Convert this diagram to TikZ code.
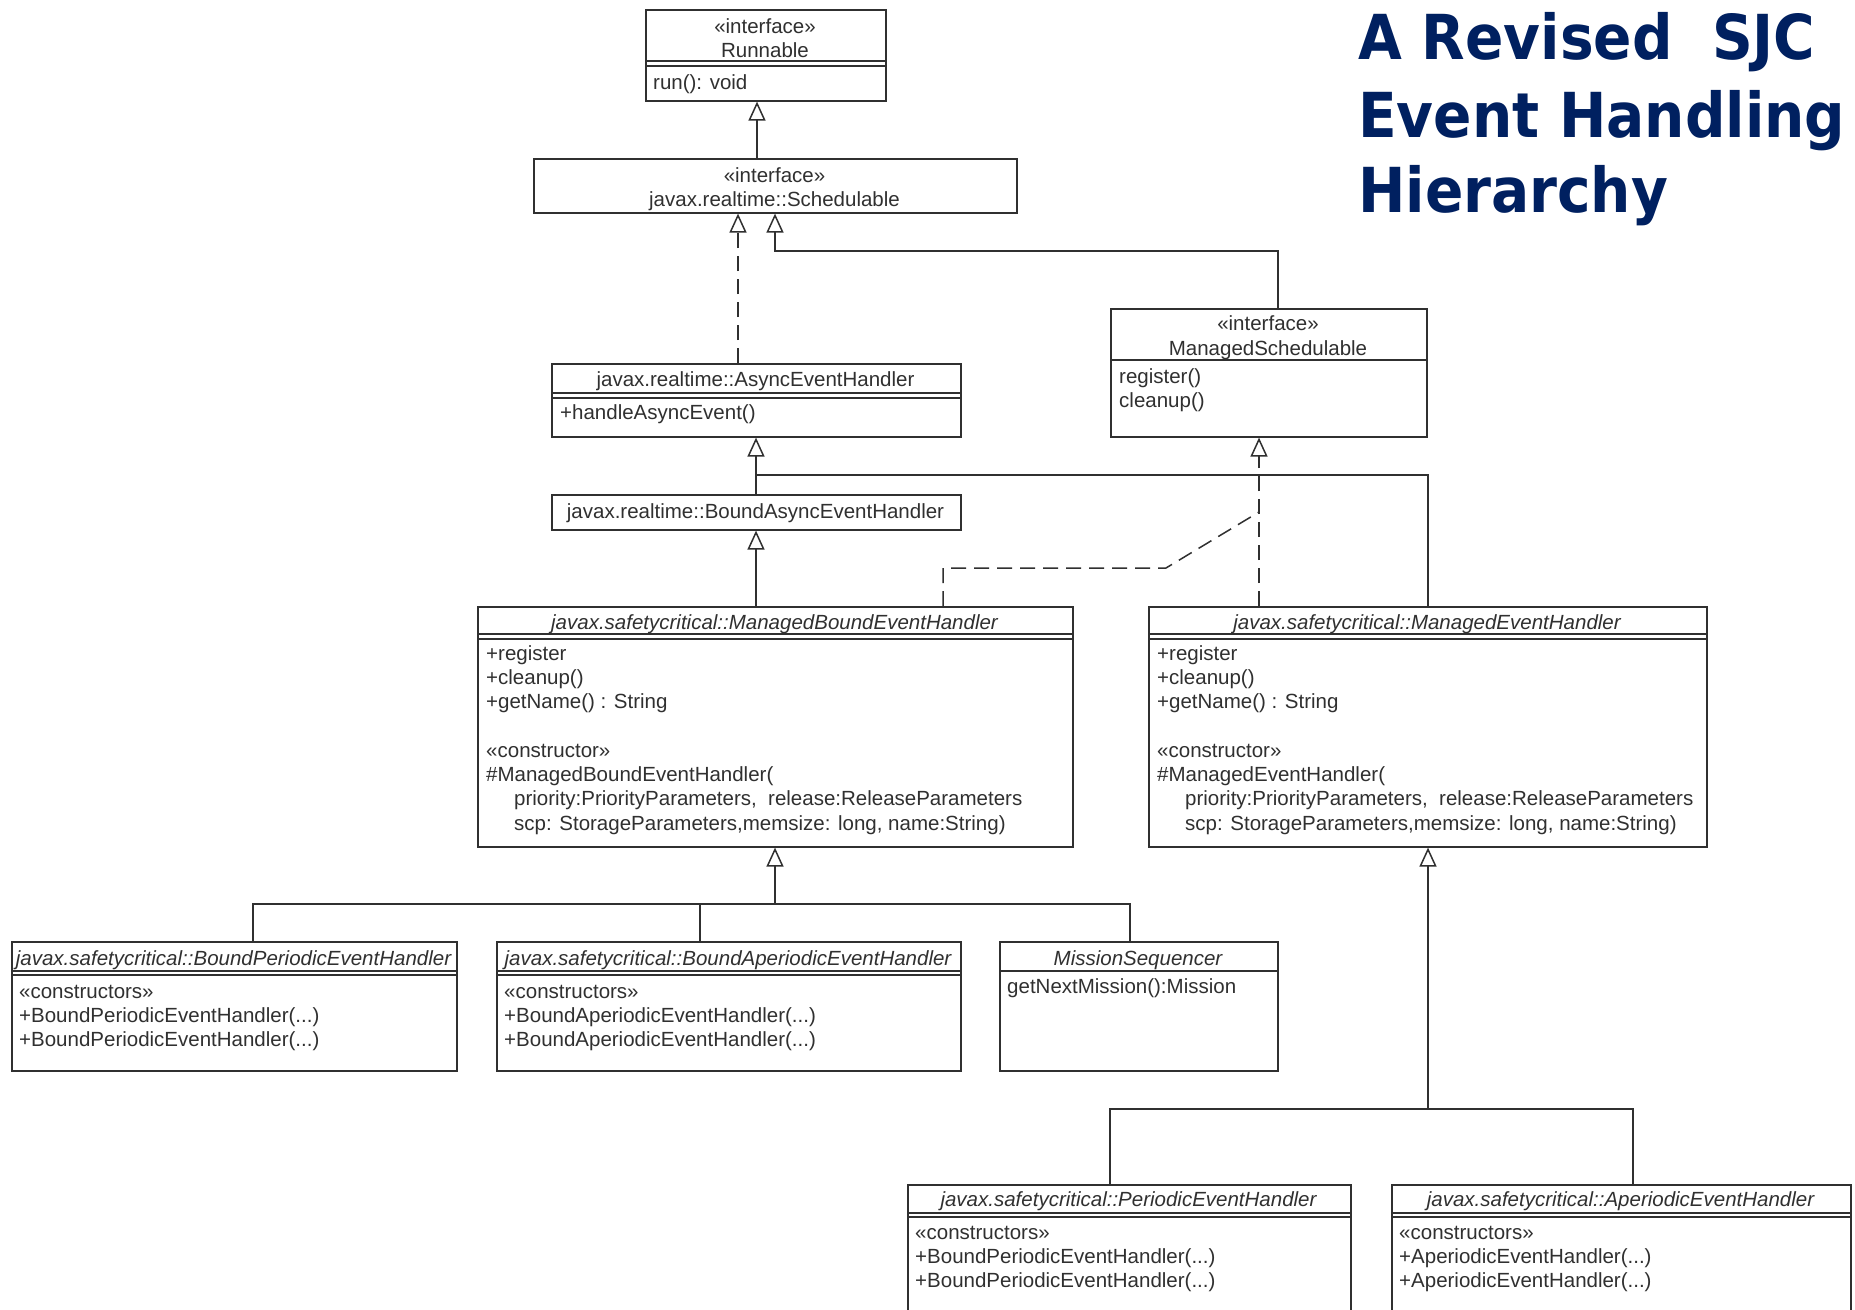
\documentclass[tikz,border=0pt]{standalone}
\usepackage{fontspec}
\setmainfont{Liberation Sans}
\newfontfamily\titlefont[FakeStretch=0.913]{DejaVu Sans}
\usetikzlibrary{arrows.meta}
\definecolor{navy}{HTML}{002060}
\definecolor{ink}{HTML}{303030}
\tikzset{
 umlbox/.style={draw=ink, line width=1.6pt, inner sep=0pt, anchor=north west, fill=white},
 txt/.style={inner sep=0pt, text=ink, font=\fontsize{20.5}{24}\selectfont, anchor=base west},
 ctxt/.style={txt, anchor=base},
 ital/.style={txt, anchor=base, font=\fontsize{20.5}{24}\selectfont\itshape},
 conn/.style={draw=ink, line width=1.5pt},
 gen/.style={conn, -{Triangle[open, length=19pt, width=17pt]}},
 dsh/.style={dash pattern=on 15pt off 8pt},
 sep/.style={draw=ink, line width=1.3pt},
 ttl/.style={inner sep=0pt, anchor=base west, text=navy, font=\titlefont\bfseries\fontsize{62}{70}\selectfont},
}
\newcommand\tdots{...}
\newcommand\mlines[5]{\foreach \t [count=\i from 0] in {#5}{\node[txt] (#1\i) at (#2,{#3+\i*#4}) {\t};}}
\begin{document}
\begin{tikzpicture}[x=1pt,y=-1pt]
\path[use as bounding box, fill=white] (0,0) rectangle (1855,1309);
\clip (0,0) rectangle (1855,1309);

% ---- boxes ----
\node[umlbox, minimum width=240pt, minimum height=91pt] (run) at (645,9) {};
\node[umlbox, minimum width=483pt, minimum height=54pt] (sched) at (533,158) {};
\node[umlbox, minimum width=409pt, minimum height=73pt] (aeh) at (551,363) {};
\node[umlbox, minimum width=316pt, minimum height=128pt] (ms) at (1110,308) {};
\node[umlbox, minimum width=409pt, minimum height=35pt] (baeh) at (551,494) {};
\node[umlbox, minimum width=595pt, minimum height=240pt] (mbeh) at (477,606) {};
\node[umlbox, minimum width=558pt, minimum height=240pt] (meh) at (1148,606) {};
\node[umlbox, minimum width=445pt, minimum height=129pt] (bpeh) at (11,941) {};
\node[umlbox, minimum width=464pt, minimum height=129pt] (bapeh) at (496,941) {};
\node[umlbox, minimum width=278pt, minimum height=129pt] (mseq) at (999,941) {};
\node[umlbox, minimum width=443pt, minimum height=160pt] (peh) at (907,1184) {};
\node[umlbox, minimum width=459pt, minimum height=160pt] (apeh) at (1391,1184) {};

% ---- compartment separators ----
\draw[sep] (645,61) -- (885,61) (645,66) -- (885,66);
\draw[sep] (551,393) -- (960,393) (551,398) -- (960,398);
\draw[sep] (1110,360) -- (1426,360);
\draw[sep] (477,634) -- (1072,634) (477,639) -- (1072,639);
\draw[sep] (1148,634) -- (1706,634) (1148,639) -- (1706,639);
\draw[sep] (11,971) -- (456,971) (11,975) -- (456,975);
\draw[sep] (496,971) -- (960,971) (496,975) -- (960,975);
\draw[sep] (999,971) -- (1277,971);
\draw[sep] (907,1213) -- (1350,1213) (907,1217) -- (1350,1217);
\draw[sep] (1391,1213) -- (1850,1213) (1391,1217) -- (1850,1217);

% ---- texts ----
\node[ctxt] (run-s) at (765,33) {«interface»};
\node[ctxt] (run-n) at (765,57) {Runnable};
\node[txt] (run-m) at (653,89) {run(): void};
\node[ctxt] (sched-s) at (774.5,182) {«interface»};
\node[ctxt] (sched-n) at (774.5,206) {javax.realtime::Schedulable};
\node[ctxt] (aeh-n) at (755.5,386) {javax.realtime::AsyncEventHandler};
\node[txt] (aeh-m) at (560,419) {+handleAsyncEvent()};
\node[ctxt] (ms-s) at (1268,330) {«interface»};
\node[ctxt] (ms-n) at (1268,355) {ManagedSchedulable};
\mlines{ms-m}{1119}{383}{24}{register(), cleanup()}
\node[ctxt] (baeh-n) at (755.5,518) {javax.realtime::BoundAsyncEventHandler};
\node[ital] (mbeh-n) at (774.5,629) {javax.safetycritical::ManagedBoundEventHandler};
\mlines{mbeh-m}{486}{660}{24.3}{+register, +cleanup(), +getName() : String, {}, «constructor», \#ManagedBoundEventHandler(, {\hspace*{28pt}priority:PriorityParameters,~~release:ReleaseParameters}, {\hspace*{28pt}scp: StorageParameters,memsize: long, name:String)}}
\node[ital] (meh-n) at (1427,629) {javax.safetycritical::ManagedEventHandler};
\mlines{meh-m}{1157}{660}{24.3}{+register, +cleanup(), +getName() : String, {}, «constructor», \#ManagedEventHandler(, {\hspace*{28pt}priority:PriorityParameters,~~release:ReleaseParameters}, {\hspace*{28pt}scp: StorageParameters,memsize: long, name:String)}}
\node[ital] (bpeh-n) at (233.5,965) {javax.safetycritical::BoundPeriodicEventHandler};
\mlines{bpeh-m}{19}{998}{24}{«constructors», +BoundPeriodicEventHandler(\tdots), +BoundPeriodicEventHandler(\tdots)}
\node[ital] (bapeh-n) at (728,965) {javax.safetycritical::BoundAperiodicEventHandler};
\mlines{bapeh-m}{504}{998}{24}{«constructors», +BoundAperiodicEventHandler(\tdots), +BoundAperiodicEventHandler(\tdots)}
\node[ital] (mseq-n) at (1138,965) {MissionSequencer};
\node[txt] (mseq-m) at (1007,993) {getNextMission():Mission};
\node[ital] (peh-n) at (1128.5,1206) {javax.safetycritical::PeriodicEventHandler};
\mlines{peh-m}{915}{1239}{24}{«constructors», +BoundPeriodicEventHandler(\tdots), +BoundPeriodicEventHandler(\tdots)}
\node[ital] (apeh-n) at (1620.5,1206) {javax.safetycritical::AperiodicEventHandler};
\mlines{apeh-m}{1399}{1239}{24}{«constructors», +AperiodicEventHandler(\tdots), +AperiodicEventHandler(\tdots)}

% ---- title ----
\node[ttl] (t1) at (1358,59) {A Revised~~SJC};
\node[ttl] (t2) at (1358,137) {Event Handling};
\node[ttl] (t3) at (1358,212) {Hierarchy};

% ---- connectors ----
\coordinate (kRun) at (757,0);
\draw[gen] (kRun |- sched.north) -- (kRun |- run.south);
\coordinate (kAeh) at (738,0);
\draw[gen, dsh] (kAeh |- aeh.north) -- (kAeh |- sched.south);
\coordinate (jMS) at (775,251);
\coordinate (kMS) at (1278,0);
\draw[gen] (kMS |- ms.north) |- (jMS) -- (jMS |- sched.south);
\coordinate (jA) at (756,475);
\draw[gen] (jA |- baeh.north) -- (jA |- aeh.south);
\coordinate (kMeh) at (1428,0);
\draw[conn] (kMeh |- meh.north) |- (jA);
\draw[gen] (jA |- mbeh.north) -- (jA |- baeh.south);
\coordinate (kR) at (1259,0);
\draw[gen, dsh] (kR |- meh.north) -- (kR |- ms.south);
\coordinate (d1) at (943,568);
\coordinate (d2) at (1166,568);
\coordinate (d3) at (1259,512);
\draw[conn, dsh] (d1 |- mbeh.north) -- (d1) -- (d2) -- (d3);
\coordinate (jB) at (775,904);
\coordinate (k1) at (253,0);
\coordinate (k2) at (700,0);
\coordinate (k3) at (1130,0);
\draw[conn] (k1 |- bpeh.north) |- (jB);
\draw[conn] (k2 |- bapeh.north) |- (jB);
\draw[conn] (k3 |- mseq.north) |- (jB);
\draw[gen] (jB) -- (jB |- mbeh.south);
\coordinate (jC) at (1428,1109);
\coordinate (k4) at (1110,0);
\coordinate (k5) at (1633,0);
\draw[conn] (k4 |- peh.north) |- (jC);
\draw[conn] (k5 |- apeh.north) |- (jC);
\draw[gen] (jC) -- (jC |- meh.south);
\end{tikzpicture}
\end{document}
